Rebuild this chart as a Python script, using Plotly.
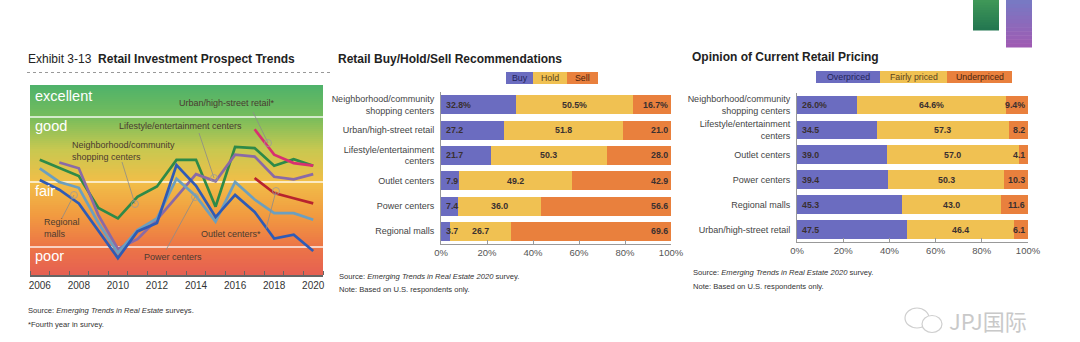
import plotly.graph_objects as go

W, H = 1080, 342

# ---------------- data ----------------
years = list(range(2006, 2021))
neighborhood = [3.34, 3.21, 3.09, 2.60, 2.44, 2.77, 2.93, 3.34, 3.34, 2.62, 3.54, 3.52, 3.25, 3.35, 3.25]
lifestyle    = [None, 3.30, 3.21, 2.49, 1.97, 2.12, 2.42, 2.77, 3.12, 3.01, 3.42, 3.39, 3.08, 3.04, 3.12]
power        = [3.21, 3.00, 2.91, 2.37, 1.91, 2.26, 2.44, 3.05, 2.78, 2.39, 3.00, 2.73, 2.52, 2.52, 2.42]
regional     = [3.03, 2.88, 2.67, 2.24, 1.83, 2.24, 2.37, 3.26, 2.94, 2.46, 2.80, 2.54, 2.13, 2.19, 1.94]
urban        = [None] * 11 + [3.81, 3.42, 3.29, 3.25]
outlet       = [None] * 11 + [3.06, 2.83, 2.75, 2.67]
rating_names = ["excellent", "good", "fair", "poor"]
rating_bounds = [4.0, 3.0, 2.0]
year_labels = [str(y) if y % 2 == 0 else "" for y in years]

bhs_cats = ["Neighborhood/community<br>shopping centers", "Urban/high-street retail",
            "Lifestyle/entertainment<br>centers", "Outlet centers", "Power centers", "Regional malls"]
buy  = [32.8, 27.2, 21.7, 7.9, 7.4, 3.7]
hold = [50.5, 51.8, 50.3, 49.2, 36.0, 26.7]
sell = [16.7, 21.0, 28.0, 42.9, 56.6, 69.6]

price_cats = ["Neighborhood/community<br>shopping centers", "Lifestyle/entertainment<br>centers",
              "Outlet centers", "Power centers", "Regional malls", "Urban/high-street retail"]
overpriced  = [26.0, 34.5, 39.0, 39.4, 45.3, 47.5]
fairly      = [64.6, 57.3, 57.0, 50.3, 43.0, 46.4]
underpriced = [9.4, 8.2, 4.1, 10.3, 11.6, 6.1]

pct_ticks = [0, 20, 40, 60, 80, 100]

# ---------------- helpers ----------------
def fx(p):
    return p / W

def fy(p):
    return 1 - p / H

SANS = "Liberation Sans, Arial, sans-serif"
BLUE, YELLOW, ORANGE = "#6b6cc0", "#f0c152", "#e9803d"

def lab(vals):
    return [f"{v:.1f}%" if i == 0 else f"{v:.1f}" for i, v in enumerate(vals)]

fig = go.Figure()

# ---------------- line chart ----------------
line_series = [
    ("Neighborhood/community shopping centers", neighborhood, "#2e8a48"),
    ("Lifestyle/entertainment centers", lifestyle, "#8a6aa6"),
    ("Power centers", power, "#6c9fbf"),
    ("Regional malls", regional, "#2f5bb5"),
    ("Urban/high-street retail*", urban, "#d83070"),
    ("Outlet centers*", outlet, "#b8232e"),
]
for name, vals, col in line_series:
    fig.add_trace(go.Scatter(x=years, y=vals, mode="lines", name=name,
                             line=dict(color=col, width=2.7), xaxis="x", yaxis="y",
                             showlegend=False, connectgaps=False))

annotations = []
shapes = []
bar_font = dict(family=SANS, size=8.8, color="#3a3030", weight="bold")

def stacked(cats, series, xa, ya):
    first, mid, last = series
    for name, vals, col in [(first[0], first[1], BLUE), (mid[0], mid[1], YELLOW), (last[0], last[1], ORANGE)]:
        fig.add_trace(go.Bar(y=cats, x=vals, orientation="h", name=name,
                             marker=dict(color=col, line=dict(width=0)),
                             xaxis=xa, yaxis=ya, showlegend=False))
    for i, c in enumerate(cats):
        a, b, d = first[1][i], mid[1][i], last[1][i]
        ta, tb, td = lab(first[1])[i], lab(mid[1])[i], lab(last[1])[i]
        annotations.append(dict(x=0, y=c, xref=xa, yref=ya, text=ta, showarrow=False, xanchor="left",
                                xshift=3, font=bar_font))
        annotations.append(dict(x=a + b / 2, y=c, xref=xa, yref=ya, text=tb, showarrow=False,
                                xanchor="center", font=bar_font))
        annotations.append(dict(x=min(a + b + d, 100), y=c, xref=xa, yref=ya, text=td, showarrow=False,
                                xanchor="right", xshift=-1, font=bar_font))

stacked(bhs_cats, [("Buy", buy), ("Hold", hold), ("Sell", sell)], "x2", "y2")
stacked(price_cats, [("Overpriced", overpriced), ("Fairly priced", fairly), ("Underpriced", underpriced)], "x3", "y3")

# gradient background for line chart
stops = [(0.0, (78, 178, 106)), (0.163, (116, 188, 92)), (0.34, (200, 200, 80)), (0.51, (241, 190, 72)),
         (0.684, (241, 155, 64)), (0.847, (236, 118, 70)), (1.0, (230, 96, 82))]

def grad(t):
    for (t0, c0), (t1, c1) in zip(stops[:-1], stops[1:]):
        if t0 <= t <= t1:
            f = (t - t0) / (t1 - t0)
            return "rgb(%d,%d,%d)" % tuple(round(a + (b - a) * f) for a, b in zip(c0, c1))
    return "rgb(%d,%d,%d)" % stops[-1][1]

N = 95
for i in range(N):
    t = (i + 0.5) / N
    shapes.append(dict(type="rect", xref="x domain", yref="y domain", x0=0, x1=1,
                       y0=1 - i / N, y1=1 - (i + 1) / N - 0.002, fillcolor=grad(t), line=dict(width=0),
                       layer="below"))
for b in rating_bounds:
    shapes.append(dict(type="line", xref="x domain", yref="y", x0=0, x1=1, y0=b, y1=b,
                       line=dict(color="rgba(255,255,255,0.9)", width=1.5), layer="below"))

# rating labels
rating_pos = [4.48, 4.0, 3.0, 2.0]
for nm, v in zip(rating_names, rating_pos):
    annotations.append(dict(x=0.01, xref="x domain", y=v, yref="y", text=nm, showarrow=False,
                            xanchor="left", yanchor="top", yshift=1 if nm != "excellent" else 0,
                            font=dict(family=SANS, size=14.5, color="white")))

# leader lines and labels (pixel positions)
leaders = [((253, 112), (268, 143)), ((199, 133), (214, 178)), ((122, 162), (135, 204)),
           ((62, 218), (74, 195)), ((266, 229), (276, 191)), ((166, 250), (195, 197))]
for (x0, y0), (x1, y1) in leaders:
    shapes.append(dict(type="line", xref="paper", yref="paper", x0=fx(x0), y0=fy(y0), x1=fx(x1), y1=fy(y1),
                       line=dict(color="#8c8c8c", width=0.8)))
    shapes.append(dict(type="circle", xref="paper", yref="paper", x0=fx(x1 - 3.5), x1=fx(x1 + 3.5),
                       y0=fy(y1 + 3.5), y1=fy(y1 - 3.5), line=dict(color="#9a9a9a", width=0.8)))

lab_color = "#4a3b30"
for txt, px_, py_, xa in [("Urban/high-street retail*", 227, 103, "center"),
                          ("Lifestyle/entertainment centers", 180, 126, "center"),
                          ("Neighborhood/community<br>shopping centers", 70, 151.5, "left"),
                          ("Regional<br>malls", 42, 227.5, "left"),
                          ("Outlet centers*", 231, 234, "center"),
                          ("Power centers", 173, 257, "center")]:
    annotations.append(dict(x=fx(px_), y=fy(py_), xref="paper", yref="paper", text=txt, showarrow=False,
                            xanchor=xa, yanchor="middle", align="left",
                            font=dict(family=SANS, size=9, color=lab_color)))

# titles
annotations.append(dict(x=fx(26), y=fy(59), xref="paper", yref="paper", showarrow=False, xanchor="left",
                        yanchor="middle", text="Exhibit 3-13  <b>Retail Investment Prospect Trends</b>",
                        font=dict(family=SANS, size=12, color="#222")))
shapes.append(dict(type="line", xref="paper", yref="paper", x0=fx(27), x1=fx(331), y0=fy(72.5), y1=fy(72.5),
                   line=dict(color="#999", width=1, dash="dot")))
annotations.append(dict(x=fx(336), y=fy(59), xref="paper", yref="paper", showarrow=False, xanchor="left",
                        yanchor="middle", text="<b>Retail Buy/Hold/Sell Recommendations</b>",
                        font=dict(family=SANS, size=12, color="#222")))
annotations.append(dict(x=fx(690), y=fy(57), xref="paper", yref="paper", showarrow=False, xanchor="left",
                        yanchor="middle", text="<b>Opinion of Current Retail Pricing</b>",
                        font=dict(family=SANS, size=12, color="#222")))

# sources
src_font = dict(family=SANS, size=7.6, color="#333")
for txt, px_, py_ in [("Source: <i>Emerging Trends in Real Estate</i> surveys.", 26, 310),
                      ("*Fourth year in survey.", 26, 324),
                      ("Source: <i>Emerging Trends in Real Estate 2020</i> survey.", 337, 276),
                      ("Note: Based on U.S. respondents only.", 337, 289),
                      ("Source: <i>Emerging Trends in Real Estate 2020</i> survey.", 691, 272),
                      ("Note: Based on U.S. respondents only.", 691, 286)]:
    annotations.append(dict(x=fx(px_), y=fy(py_), xref="paper", yref="paper", showarrow=False,
                            xanchor="left", yanchor="middle", text=txt, font=src_font))

# legend boxes
def legend_boxes(items, y0, y1):
    for name, col, tcol, a, b in items:
        shapes.append(dict(type="rect", xref="paper", yref="paper", x0=fx(a), x1=fx(b), y0=fy(y1), y1=fy(y0),
                           fillcolor=col, line=dict(width=0)))
        annotations.append(dict(x=fx((a + b) / 2), y=fy((y0 + y1) / 2), xref="paper", yref="paper",
                                showarrow=False, text=name, xanchor="center", yanchor="middle",
                                font=dict(family=SANS, size=8.8, color=tcol)))

legend_boxes([("Buy", BLUE, "#24245a", 506, 533), ("Hold", YELLOW, "#5a4420", 533, 567),
              ("Sell", ORANGE, "#4a2410", 567, 598)], 72, 84)
legend_boxes([("Overpriced", BLUE, "#24245a", 816, 880), ("Fairly priced", YELLOW, "#5a4420", 880, 947),
              ("Underpriced", ORANGE, "#4a2410", 947, 1012)], 71, 83)

# decorative squares top right (gradients)
def vgrad(x0, x1, y0, y1, c0, c1, n=12):
    for i in range(n):
        f = (i + 0.5) / n
        c = "rgb(%d,%d,%d)" % tuple(round(a + (b - a) * f) for a, b in zip(c0, c1))
        ya = y0 + (y1 - y0) * i / n
        yb = y0 + (y1 - y0) * (i + 1) / n + 0.5
        shapes.append(dict(type="rect", xref="paper", yref="paper", x0=fx(x0), x1=fx(x1), y0=fy(yb), y1=fy(ya),
                           fillcolor=c, line=dict(width=0)))

vgrad(973, 999, 0, 30, (64, 152, 88), (34, 118, 80))
vgrad(1006, 1032, 0, 47, (118, 122, 196), (160, 90, 178))

# watermark
for (cx, cy, rx, ry) in [(917, 318, 12, 10), (932, 324, 10, 8.5)]:
    shapes.append(dict(type="circle", xref="paper", yref="paper", x0=fx(cx - rx), x1=fx(cx + rx),
                       y0=fy(cy + ry), y1=fy(cy - ry), line=dict(color="#cfcfcf", width=1.2),
                       fillcolor="rgba(255,255,255,1)"))
annotations.append(dict(x=fx(947), y=fy(320), xref="paper", yref="paper", showarrow=False, xanchor="left",
                        yanchor="middle", text="JPJ国际",
                        font=dict(family="Noto Sans CJK SC, sans-serif", size=22, color="#c9c9c9")))

axis_font = dict(family=SANS, size=9.5, color="#555")
cat_font = dict(family=SANS, size=9, color="#444")

fig.update_layout(
    template="none",
    width=W, height=H, autosize=False, margin=dict(l=0, r=0, t=0, b=0, pad=0, autoexpand=False),
    paper_bgcolor="white", plot_bgcolor="rgba(0,0,0,0)",
    barmode="stack", bargap=0.25, showlegend=False,
    font=dict(family=SANS, color="#333"),
    shapes=shapes, annotations=annotations,
    xaxis=dict(domain=[fx(30), fx(323)], range=[2005.5, 2020.5], anchor="y", automargin=False,
               tickvals=years, ticktext=year_labels, ticks="", showgrid=False, zeroline=False,
               showline=True, linecolor="#666", linewidth=1.5,
               minor=dict(tickvals=[y - 0.5 for y in years] + [2020.5], ticks="inside", ticklen=4,
                          tickcolor="#666", showgrid=False),
               tickfont=dict(family=SANS, size=10, color="#333")),
    yaxis=dict(domain=[fy(275), fy(85)], range=[1.57, 4.49], anchor="x", visible=False, fixedrange=True,
               automargin=False, showgrid=False, zeroline=False),
    xaxis2=dict(domain=[fx(441), fx(671)], range=[0, 100], anchor="y2", tickvals=pct_ticks, automargin=False,
                ticktext=[f"{v}%" for v in pct_ticks], ticks="inside", ticklen=4, tickcolor="#999",
                showline=True, linecolor="#999", showgrid=False, zeroline=False, tickfont=axis_font),
    yaxis2=dict(domain=[fy(244), fy(92)], anchor="x2", autorange="reversed", showline=True, linecolor="#999",
                ticks="", ticklabelstandoff=4, showgrid=False, zeroline=False, automargin=False, tickfont=cat_font),
    xaxis3=dict(domain=[fx(797), fx(1028)], range=[0, 100], anchor="y3", tickvals=pct_ticks, automargin=False,
                ticktext=[f"{v}%" for v in pct_ticks], ticks="inside", ticklen=4, tickcolor="#999",
                showline=True, linecolor="#999", showgrid=False, zeroline=False, tickfont=axis_font),
    yaxis3=dict(domain=[fy(242), fy(92.5)], anchor="x3", autorange="reversed", showline=True, linecolor="#999",
                ticks="", ticklabelstandoff=4, showgrid=False, zeroline=False, automargin=False, tickfont=cat_font),
)

fig.write_html("out.html", config={"responsive": False, "displayModeBar": False})
